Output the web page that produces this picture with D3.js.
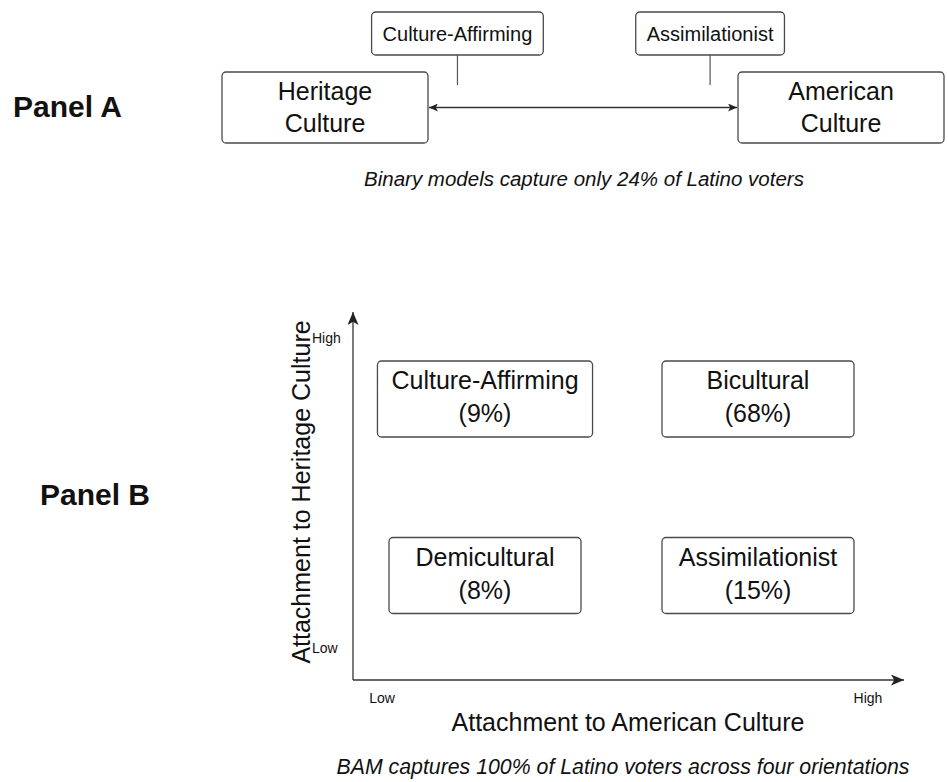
<!DOCTYPE html>
<html>
<head>
<meta charset="utf-8">
<script src="https://cdn.jsdelivr.net/npm/d3@7"></script>
<style>
  body { margin: 0; background: #fff; }
  text { font-family: "Liberation Sans", Arial, Helvetica, sans-serif; fill: #111; }
</style>
</head>
<body>
<div id="chart"></div>
<script>
// Panel A: binary model
var binaryEnds = ["Heritage Culture", "American Culture"]
var binaryCallouts = ["Culture-Affirming", "Assimilationist"]
var binaryShare = 24

// Panel B: bidimensional model, one entry per quadrant
var quadrantNames = ["Culture-Affirming", "Bicultural", "Demicultural", "Assimilationist"]
var quadrantShares = [9, 68, 8, 15]
var americanLevel = ["Low", "High", "Low", "High"]
var heritageLevel = ["High", "High", "Low", "Low"]
var levels = ["Low", "High"]
var bamShare = 100

var width = 948, height = 782
var stroke = "#4a4a4a"

var svg = d3.select("#chart").append("svg")
    .attr("width", width)
    .attr("height", height)

var defs = svg.append("defs")
function arrowMarker(id, len, half) {
  defs.append("marker")
    .attr("id", id)
    .attr("markerUnits", "userSpaceOnUse")
    .attr("viewBox", "0 " + (-half) + " " + len + " " + (half * 2))
    .attr("refX", len).attr("refY", 0)
    .attr("markerWidth", len).attr("markerHeight", half * 2)
    .attr("orient", "auto-start-reverse")
    .append("path")
    .attr("d", "M0," + (-half) + "L" + len + ",0L0," + half + "L" + (len * 0.25) + ",0Z")
    .attr("fill", "#222")
}
arrowMarker("headSmall", 9, 4)
arrowMarker("headBig", 13, 5.5)

function box(g, cx, cy, w, h, lines, size, offsets) {
  g.append("rect")
    .attr("x", cx - w / 2).attr("y", cy - h / 2)
    .attr("width", w).attr("height", h)
    .attr("rx", 4)
    .attr("fill", "#fff")
    .attr("stroke", stroke)
    .attr("stroke-width", 1.3)
  lines.forEach(function(t, i) {
    g.append("text")
      .attr("x", cx).attr("y", cy + offsets[i])
      .attr("text-anchor", "middle")
      .attr("font-size", size)
      .text(t)
  })
}

// ---------- Panel A ----------
var panelA = svg.append("g")

panelA.append("text")
  .attr("x", 13).attr("y", 117)
  .attr("font-size", 30).attr("font-weight", "bold")
  .text("Panel A")

var endScale = d3.scalePoint().domain(binaryEnds).range([325, 841])
var endW = 206, endH = 71, endY = 107.5

// position along the continuum, 0 = heritage edge, 1 = american edge
var continuum = d3.scaleLinear().domain([0, 1])
  .range([endScale(binaryEnds[0]) + endW / 2, endScale(binaryEnds[1]) - endW / 2])

panelA.append("line")
  .attr("x1", continuum(0) + 1).attr("x2", continuum(1) - 1)
  .attr("y1", endY).attr("y2", endY)
  .attr("stroke", "#333").attr("stroke-width", 1.3)
  .attr("marker-start", "url(#headSmall)")
  .attr("marker-end", "url(#headSmall)")

var calloutPos = [0.095, 0.91]
binaryCallouts.forEach(function(name, i) {
  var cx = continuum(calloutPos[i])
  panelA.append("line")
    .attr("x1", cx).attr("x2", cx)
    .attr("y1", 55).attr("y2", 85)
    .attr("stroke", "#555").attr("stroke-width", 1.2)
  var tmp = panelA.append("text").attr("font-size", 20).text(name)
  var w = tmp.node().getComputedTextLength() + 22
  tmp.remove()
  box(panelA, cx, 33.5, w, 43, [name], 20, [7.5])
})

binaryEnds.forEach(function(name) {
  box(panelA, endScale(name), endY, endW, endH, name.split(" "), 25, [-8, 24])
})

panelA.append("text")
  .attr("x", 584).attr("y", 186)
  .attr("text-anchor", "middle")
  .attr("font-size", 20.5).attr("font-style", "italic")
  .text("Binary models capture only " + binaryShare + "% of Latino voters")

// ---------- Panel B ----------
var panelB = svg.append("g")

panelB.append("text")
  .attr("x", 40).attr("y", 505)
  .attr("font-size", 30).attr("font-weight", "bold")
  .text("Panel B")

var originX = 353, originY = 680

var xScale = d3.scalePoint().domain(levels).range([485, 758])
var yScale = d3.scalePoint().domain(levels).range([575.5, 399])
var xLabelScale = d3.scalePoint().domain(levels).range([382, 868])
var yLabelScale = d3.scalePoint().domain(levels).range([653, 343])

// axes
panelB.append("line")
  .attr("x1", originX).attr("x2", originX)
  .attr("y1", originY).attr("y2", 312)
  .attr("stroke", "#333").attr("stroke-width", 1.3)
  .attr("marker-end", "url(#headBig)")
panelB.append("line")
  .attr("x1", originX).attr("x2", 904)
  .attr("y1", originY).attr("y2", originY)
  .attr("stroke", "#333").attr("stroke-width", 1.3)
  .attr("marker-end", "url(#headBig)")

panelB.selectAll(".xlevel")
  .data(levels)
  .enter().append("text")
  .attr("class", "xlevel")
  .attr("x", function(d) { return xLabelScale(d) })
  .attr("y", 703)
  .attr("text-anchor", "middle")
  .attr("font-size", 14)
  .text(function(d) { return d })

panelB.selectAll(".ylevel")
  .data(levels)
  .enter().append("text")
  .attr("class", "ylevel")
  .attr("x", 312)
  .attr("y", function(d) { return yLabelScale(d) })
  .attr("font-size", 14)
  .text(function(d) { return d })

panelB.append("text")
  .attr("transform", "translate(310,492) rotate(-90)")
  .attr("text-anchor", "middle")
  .attr("font-size", 25)
  .text("Attachment to Heritage Culture")

panelB.append("text")
  .attr("x", 628).attr("y", 731)
  .attr("text-anchor", "middle")
  .attr("font-size", 25)
  .text("Attachment to American Culture")

// quadrant boxes
quadrantNames.forEach(function(name, i) {
  var tmp = panelB.append("text").attr("font-size", 25).text(name)
  var w = Math.max(192, tmp.node().getComputedTextLength() + 28)
  tmp.remove()
  box(panelB, xScale(americanLevel[i]), yScale(heritageLevel[i]), w, 76,
    [name, "(" + quadrantShares[i] + "%)"], 25, [-10, 23])
})

panelB.append("text")
  .attr("x", 623).attr("y", 774)
  .attr("text-anchor", "middle")
  .attr("font-size", 21.3).attr("font-style", "italic")
  .text("BAM captures " + bamShare + "% of Latino voters across four orientations")
</script>
</body>
</html>
